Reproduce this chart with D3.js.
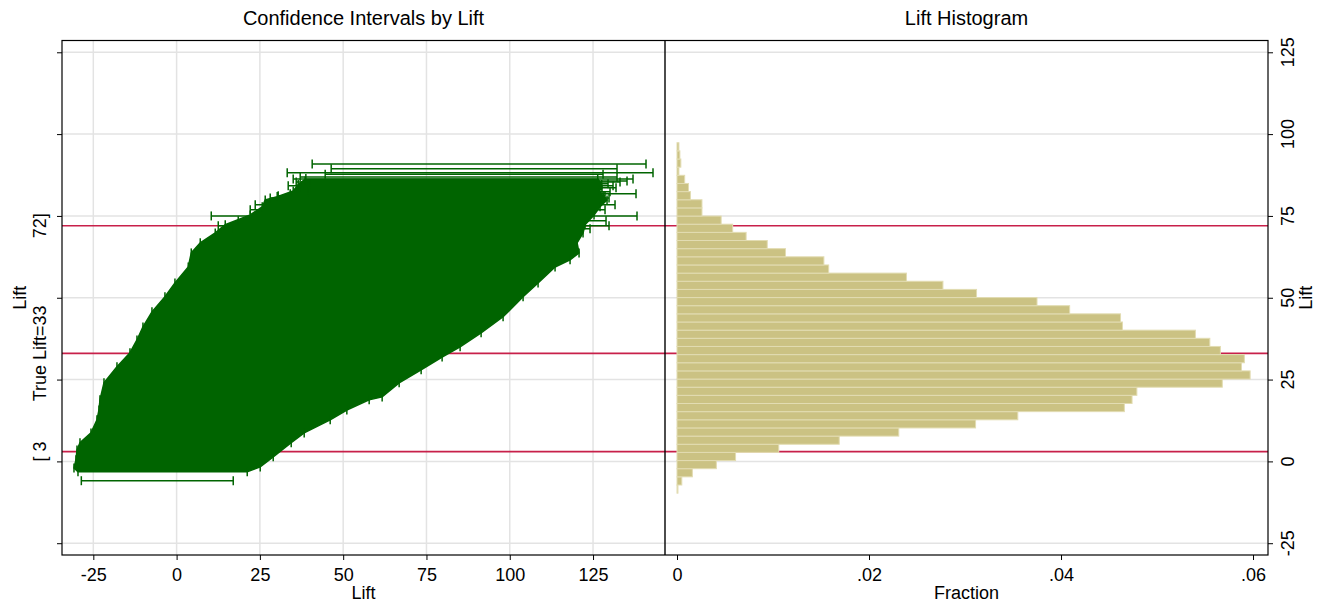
<!DOCTYPE html>
<html>
<head>
<meta charset="utf-8">
<script src="https://cdn.jsdelivr.net/npm/d3@7"></script>
<style>
  body { margin: 0; background: #fff; }
  svg { display: block; }
  text { font-family: "Liberation Sans", Arial, sans-serif; fill: #000; }
</style>
</head>
<body>
<div class="container"></div>
<script>
let width = 1317
let height = 603

// shared lift axis
let liftTicks = [-25, 0, 25, 50, 75, 100, 125]
let refLines = [3, 33, 72]
let refLabels = ["[ 3", "True Lift=33", "72]"]

// x axes
let ciTicks = [-25, 0, 25, 50, 75, 100, 125]
let fracTicks = [0, 0.02, 0.04, 0.06]
let fracLabels = ["0", ".02", ".04", ".06"]

// histogram of lift estimates (bottom bin first)
let binStart = -9.7
let binWidth = 2.49
let binFraction = [0.0001, 0.0005, 0.0016, 0.0041, 0.0061, 0.0106, 0.0169, 0.0231, 0.0311, 0.0355,
  0.0466, 0.0474, 0.0479, 0.0568, 0.0597, 0.0588, 0.0591, 0.0566, 0.0555, 0.0540,
  0.0464, 0.0462, 0.0409, 0.0375, 0.0312, 0.0277, 0.0239, 0.0158, 0.0153, 0.0113,
  0.0094, 0.0072, 0.0058, 0.0046, 0.0026, 0.0026, 0.0014, 0.0012, 0.0008, 0.0002,
  0.0004, 0.0003, 0.0002]

// separate intervals that stick out of the dense band
let ciLift  = [90.9, 89.4, 88.2, 87.7, 86.9, 86.3, 85.7, 85.4, 84.8, 84.2, 83.6, 83.0, 82.4, 81.8, 81.2, 80.5, 78.4, 76.9, 75.0, 73.5, 72.0, 71.1, -5.9]
let ciLower = [40.7, 46.4, 33.2, 44.6, 37.1, 35.0, 38.6, 35.9, 40.1, 33.5, 37.1, 36.2, 39.5, 34.1, 30.5, 28.1, 23.6, 22.1, 10.4, 18.5, 12.5, 16.7, -28.6]
let ciUpper = [140.9, 132.2, 143.0, 128.0, 132.2, 137.0, 135.2, 133.1, 129.5, 131.0, 131.9, 127.7, 130.1, 137.9, 128.6, 129.8, 131.6, 128.6, 138.2, 128.9, 129.8, 124.1, 17.0]

// outline of the dense band: outermost lower and upper bounds by lift
let leftLift  = [86.4, 84.6, 82.6, 80.9, 79.9, 77.8, 75.3, 72.3, 69.8, 66.8, 63.7, 59.4, 54.5, 50.3, 45.7, 41.1, 37.1, 33.2, 28.9, 24.0, 18.8, 15.7, 12.7, 8.7, 5.7, 3.5, 0.5, -2.0, -3.2]
let leftLower = [38.8, 36.5, 35.0, 30.2, 26.6, 25.7, 22.1, 14.6, 11.6, 7.1, 4.4, 3.5, -0.5, -3.5, -7.4, -10.1, -11.9, -14.0, -17.9, -21.8, -23.0, -23.3, -23.9, -25.7, -29.0, -29.9, -30.2, -30.8, -29.6]
let rightLift  = [86.4, 84.6, 82.6, 80.9, 79.9, 77.8, 75.3, 72.3, 69.8, 66.8, 63.7, 61.6, 59.4, 54.5, 50.3, 44.2, 39.3, 35.0, 31.9, 28.0, 24.0, 19.7, 18.8, 15.7, 12.7, 8.7, 5.7, 1.4, -1.7, -3.2]
let rightUpper = [126.4, 127.6, 126.9, 128.2, 129.2, 127.1, 125.3, 122.6, 122.0, 120.2, 120.8, 118.1, 113.6, 108.5, 104.0, 98.0, 91.4, 85.1, 79.7, 73.4, 66.8, 61.7, 57.8, 51.1, 46.1, 38.3, 34.4, 29.0, 25.1, 21.2]

let green = "#006400"
let red = "#c8204a"
let gridColor = "#e3e3e3"

let plotTop = 40.5, plotBottom = 555
let leftX0 = 62, midX = 665, rightX1 = 1268

let y = d3.scaleLinear().domain([-28.6, 128.6]).range([plotBottom, plotTop])
let xCI = d3.scaleLinear().domain([-34.4, 146.6]).range([leftX0, midX])
let xFrac = d3.scaleLinear().domain([-0.00125, 0.06156]).range([midX, rightX1])

let svg = d3.select(".container")
  .append("svg")
  .attr("width", width)
  .attr("height", height)

// grid
svg.append("g").selectAll("line")
  .data(liftTicks)
  .enter()
  .append("line")
  .attr("x1", leftX0).attr("x2", rightX1)
  .attr("y1", d => y(d)).attr("y2", d => y(d))
  .attr("stroke", gridColor).attr("stroke-width", 1.5)

svg.append("g").selectAll("line")
  .data(ciTicks)
  .enter()
  .append("line")
  .attr("x1", d => xCI(d)).attr("x2", d => xCI(d))
  .attr("y1", plotTop).attr("y2", plotBottom)
  .attr("stroke", gridColor).attr("stroke-width", 1.5)

// reference lines
svg.append("g").selectAll("line")
  .data(refLines)
  .enter()
  .append("line")
  .attr("x1", leftX0).attr("x2", rightX1)
  .attr("y1", d => y(d)).attr("y2", d => y(d))
  .attr("stroke", red).attr("stroke-width", 1.6)

// histogram
svg.append("g").selectAll("rect")
  .data(binFraction)
  .enter()
  .append("rect")
  .attr("x", xFrac(0))
  .attr("y", (d, i) => y(binStart + (i + 1) * binWidth))
  .attr("width", d => xFrac(d) - xFrac(0))
  .attr("height", (d, i) => y(binStart + i * binWidth) - y(binStart + (i + 1) * binWidth))
  .attr("fill", "#cbc283")
  .attr("stroke", "#e2dcb2")
  .attr("stroke-width", 1)

// dense band of intervals
let outline = leftLift.map((d, i) => [leftLower[i], d])
  .concat(rightLift.map((d, i) => [rightUpper[i], d]).reverse())

svg.append("path")
  .datum(outline)
  .attr("d", d3.line().x(d => xCI(d[0])).y(d => y(d[1])))
  .attr("fill", green)
  .attr("stroke", green)
  .attr("stroke-width", 1.5)

let capH = 4.5
let caps = svg.append("g").attr("stroke", green).attr("stroke-width", 1.5)

caps.selectAll(".lcap")
  .data(leftLift)
  .enter()
  .append("line")
  .attr("class", "lcap")
  .attr("x1", (d, i) => xCI(leftLower[i])).attr("x2", (d, i) => xCI(leftLower[i]))
  .attr("y1", d => y(d) - capH).attr("y2", d => y(d) + capH)

caps.selectAll(".rcap")
  .data(rightLift)
  .enter()
  .append("line")
  .attr("class", "rcap")
  .attr("x1", (d, i) => xCI(rightUpper[i])).attr("x2", (d, i) => xCI(rightUpper[i]))
  .attr("y1", d => y(d) - capH).attr("y2", d => y(d) + capH)

// separate intervals
let ci = svg.append("g").attr("stroke", green).attr("stroke-width", 1.5)
  .selectAll("g")
  .data(ciLift)
  .enter()
  .append("g")

ci.append("line")
  .attr("x1", (d, i) => xCI(ciLower[i])).attr("x2", (d, i) => xCI(ciUpper[i]))
  .attr("y1", d => y(d)).attr("y2", d => y(d))
ci.append("line")
  .attr("x1", (d, i) => xCI(ciLower[i])).attr("x2", (d, i) => xCI(ciLower[i]))
  .attr("y1", d => y(d) - capH).attr("y2", d => y(d) + capH)
ci.append("line")
  .attr("x1", (d, i) => xCI(ciUpper[i])).attr("x2", (d, i) => xCI(ciUpper[i]))
  .attr("y1", d => y(d) - capH).attr("y2", d => y(d) + capH)

// frames
svg.append("rect")
  .attr("x", leftX0).attr("y", plotTop)
  .attr("width", rightX1 - leftX0).attr("height", plotBottom - plotTop)
  .attr("fill", "none").attr("stroke", "#000").attr("stroke-width", 1.2)
svg.append("line")
  .attr("x1", midX).attr("x2", midX).attr("y1", plotTop).attr("y2", plotBottom)
  .attr("stroke", "#000").attr("stroke-width", 1.4)

// axes
let fontSize = "18px"

let leftAxis = svg.append("g")
  .attr("transform", `translate(${leftX0},0)`)
  .call(d3.axisLeft(y).tickValues(liftTicks).tickSize(5).tickFormat(""))
leftAxis.select(".domain").remove()

svg.append("g").selectAll("text")
  .data(refLines)
  .enter()
  .append("text")
  .attr("transform", d => `translate(40,${y(d)}) rotate(-90)`)
  .attr("text-anchor", "middle")
  .attr("dominant-baseline", "central")
  .attr("font-size", fontSize)
  .text((d, i) => refLabels[i])

let rightAxis = svg.append("g")
  .attr("transform", `translate(${rightX1},0)`)
  .call(d3.axisRight(y).tickValues(liftTicks).tickSize(5).tickFormat(""))
rightAxis.select(".domain").remove()

svg.append("g").selectAll("text")
  .data(liftTicks)
  .enter()
  .append("text")
  .attr("transform", d => `translate(1288,${y(d)}) rotate(-90)`)
  .attr("text-anchor", "middle")
  .attr("dominant-baseline", "central")
  .attr("font-size", fontSize)
  .text(d => d)

let ciAxis = svg.append("g")
  .attr("transform", `translate(0,${plotBottom})`)
  .call(d3.axisBottom(xCI).tickValues(ciTicks).tickSize(5).tickPadding(8).tickFormat(d => d))
ciAxis.select(".domain").remove()

let fracAxis = svg.append("g")
  .attr("transform", `translate(0,${plotBottom})`)
  .call(d3.axisBottom(xFrac).tickValues(fracTicks).tickSize(5).tickPadding(8).tickFormat((d, i) => fracLabels[i]))
fracAxis.select(".domain").remove()

svg.selectAll(".tick text")
  .attr("font-size", fontSize)
  .attr("font-family", "Liberation Sans, Arial, sans-serif")
  .attr("fill", "#000")
svg.selectAll(".tick line").attr("stroke", "#000")

// titles
svg.append("text").attr("x", (leftX0 + midX) / 2).attr("y", 25)
  .attr("text-anchor", "middle").attr("font-size", "20px")
  .text("Confidence Intervals by Lift")
svg.append("text").attr("x", (midX + rightX1) / 2).attr("y", 25)
  .attr("text-anchor", "middle").attr("font-size", "20px")
  .text("Lift Histogram")

svg.append("text").attr("x", (leftX0 + midX) / 2).attr("y", 599)
  .attr("text-anchor", "middle").attr("font-size", fontSize)
  .text("Lift")
svg.append("text").attr("x", (midX + rightX1) / 2).attr("y", 599)
  .attr("text-anchor", "middle").attr("font-size", fontSize)
  .text("Fraction")

svg.append("text")
  .attr("transform", `translate(20,${(plotTop + plotBottom) / 2}) rotate(-90)`)
  .attr("text-anchor", "middle").attr("dominant-baseline", "central")
  .attr("font-size", fontSize)
  .text("Lift")
svg.append("text")
  .attr("transform", `translate(1306,${(plotTop + plotBottom) / 2}) rotate(-90)`)
  .attr("text-anchor", "middle").attr("dominant-baseline", "central")
  .attr("font-size", fontSize)
  .text("Lift")
</script>
</body>
</html>
